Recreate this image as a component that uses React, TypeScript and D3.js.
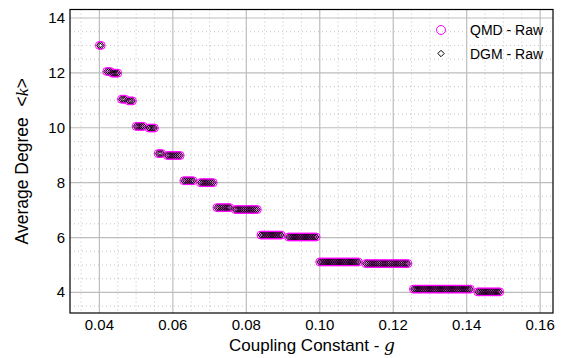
import React from "react";
import * as d3 from "d3";

// Plateau segments: start g, end g, average degree
const segStartG = [0.04, 0.042, 0.0435, 0.046, 0.048, 0.05, 0.0535, 0.056, 0.0585, 0.063, 0.0675, 0.072, 0.077, 0.084, 0.0915, 0.1, 0.1125, 0.1255, 0.143];
const segEndG = [0.0405, 0.043, 0.045, 0.047, 0.049, 0.052, 0.055, 0.057, 0.062, 0.0655, 0.071, 0.0755, 0.083, 0.0895, 0.099, 0.1105, 0.124, 0.141, 0.149];
const segK = [13.0, 12.05, 11.99, 11.04, 10.98, 10.05, 9.99, 9.06, 8.99, 8.07, 8.0, 7.09, 7.02, 6.09, 6.02, 5.11, 5.05, 4.12, 4.02];
const gStep = 0.0005; // sweep step of the coupling constant

const xTicks = [0.04, 0.06, 0.08, 0.1, 0.12, 0.14, 0.16];
const yTicks = [4, 6, 8, 10, 12, 14];
const legendLabels = ["QMD - Raw", "DGM - Raw"];

const W = 564, H = 358;
const L = 70, R = 553, T = 9.5, B = 313;
const FONT = "'Liberation Sans', Arial, Helvetica, sans-serif";

type Pt = { g: number; k: number };
const points: Pt[] = [];
segStartG.forEach((s, i) => {
  d3.range(s, segEndG[i] + gStep / 2, gStep).forEach((g) => points.push({ g, k: segK[i] }));
});

export default function App() {
  const x = d3.scaleLinear().domain([0.032, 0.1635]).range([L, R]);
  const y = d3.scaleLinear().domain([3.25, 14.31]).range([B, T]);
  const xMinor = d3.range(0.035, 0.1631, 0.005).filter((v) => !xTicks.some((t) => Math.abs(t - v) < 1e-6));
  const yMinor = d3.range(3.5, 14.01, 0.5).filter((v) => !yTicks.some((t) => Math.abs(t - v) < 1e-6));
  const diamond = (cx: number, cy: number, r: number) =>
    `M${cx},${cy - r}L${cx + r},${cy}L${cx},${cy + r}L${cx - r},${cy}Z`;
  return (
    <svg width={W} height={H} style={{ position: "absolute", left: 0, top: 0, background: "#fff" }}>
      <rect x={0} y={0} width={W} height={H} fill="#fff" />
      {/* minor grid */}
      {xMinor.map((v) => (
        <line key={"xm" + v} x1={x(v)} x2={x(v)} y1={T} y2={B} stroke="#c4c4c4" strokeWidth={1} strokeDasharray="1,3" />
      ))}
      {yMinor.map((v) => (
        <line key={"ym" + v} x1={L} x2={R} y1={y(v)} y2={y(v)} stroke="#c4c4c4" strokeWidth={1} strokeDasharray="1,3" />
      ))}
      {/* major grid */}
      {xTicks.map((v) => (
        <line key={"xg" + v} x1={x(v)} x2={x(v)} y1={T} y2={B} stroke="#bdbdbd" strokeWidth={1.2} />
      ))}
      {yTicks.map((v) => (
        <line key={"yg" + v} x1={L} x2={R} y1={y(v)} y2={y(v)} stroke="#bdbdbd" strokeWidth={1.2} />
      ))}
      {/* data: QMD circles */}
      {points.map((p, i) => (
        <circle key={"c" + i} cx={x(p.g)} cy={y(p.k)} r={4} fill="none" stroke="#ff00ff" strokeWidth={1} />
      ))}
      {/* data: DGM diamonds */}
      {points.map((p, i) => (
        <path key={"d" + i} d={diamond(x(p.g), y(p.k), 3)} fill="none" stroke="#000" strokeWidth={0.9} />
      ))}
      {/* frame */}
      <rect x={L} y={T} width={R - L} height={B - T} fill="none" stroke="#000" strokeWidth={1.2} />
      {/* tick labels */}
      {xTicks.map((v) => (
        <text key={"xt" + v} x={x(v)} y={330} textAnchor="middle" fontFamily={FONT} fontSize={15} fill="#000">
          {v.toFixed(2)}
        </text>
      ))}
      {yTicks.map((v) => (
        <text key={"yt" + v} x={65} y={y(v) + 5} textAnchor="end" fontFamily={FONT} fontSize={15} fill="#000">
          {v}
        </text>
      ))}
      {/* axis labels */}
      <text x={312} y={351} textAnchor="middle" fontFamily={FONT} fontSize={17} fill="#000">
        Coupling Constant -{" "}
        <tspan fontFamily="'DejaVu Serif', 'Liberation Serif', serif" fontStyle="italic">g</tspan>
      </text>
      <text transform={`translate(28,${(T + B) / 2}) rotate(-90)`} textAnchor="middle" fontFamily={FONT} fontSize={17.5} fill="#000">
        Average Degree{"  "}
        <tspan dx={6}>&lt;</tspan>
        <tspan fontFamily="'Liberation Serif', serif" fontStyle="italic">k</tspan>
        <tspan>&gt;</tspan>
      </text>
      {/* legend */}
      <circle cx={441} cy={30} r={4.5} fill="none" stroke="#ff00ff" strokeWidth={1} />
      <text x={470} y={35} fontFamily={FONT} fontSize={14} fill="#000">{legendLabels[0]}</text>
      <path d={diamond(441, 53.5, 3.2)} fill="none" stroke="#000" strokeWidth={1} />
      <text x={470} y={58.5} fontFamily={FONT} fontSize={14} fill="#000">{legendLabels[1]}</text>
    </svg>
  );
}
